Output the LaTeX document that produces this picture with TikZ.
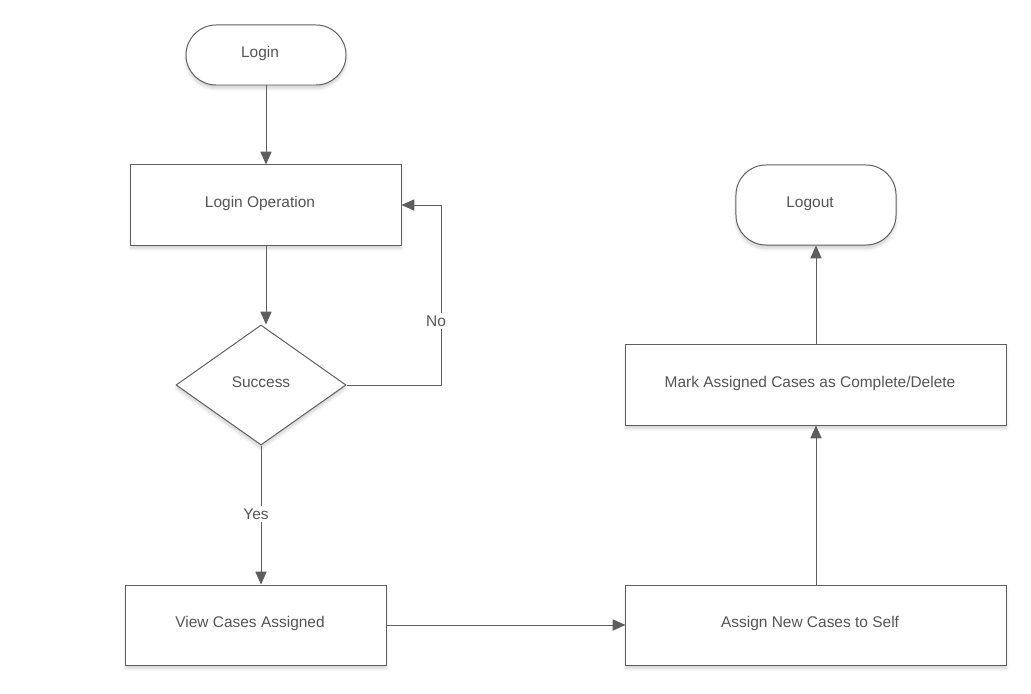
\documentclass[tikz,border=0pt]{standalone}
\usepackage{fontspec}
\setmainfont{Liberation Sans}
\usepackage{xcolor}
\usepackage{tikz}
\usetikzlibrary{positioning,shapes.geometric,arrows.meta,shadows.blur}

\definecolor{edgegray}{HTML}{5E5E5E}
\definecolor{textgray}{HTML}{555555}

\begin{document}
\begin{tikzpicture}[
  x=0.025cm, y=-0.025cm,
  every node/.style={font=\fontsize{11pt}{13pt}\selectfont, text=textgray},
  soft/.style={blur shadow={shadow xshift=0pt, shadow yshift=-2.5pt, shadow blur steps=6, shadow opacity=18}},
  txt/.style={text height=0.75em, text depth=0.45em, execute at begin node={\hspace*{-8.5pt}}},
  proc/.style={draw=edgegray, line width=0.7pt, fill=white, rectangle, soft, txt,
    minimum width=#1, minimum height=2cm, inner sep=0pt},
  term/.style={draw=edgegray, line width=0.7pt, fill=white, rectangle, rounded corners=0.75cm, soft, txt,
    minimum width=4cm, minimum height=#1, inner sep=0pt},
  decide/.style={draw=edgegray, line width=0.7pt, fill=white, diamond, soft,
    text height=0.75em, text depth=0.45em, minimum width=4.25cm, minimum height=3cm, inner sep=0pt},
  lbl/.style={fill=white, inner sep=2pt},
  arr/.style={-{Triangle[length=0.32cm, width=0.28cm]}, draw=edgegray, line width=0.7pt}
]
  \useasboundingbox (0,0) rectangle (1031,694);

  % left column
  \node[term=1.5cm] (login) at (266,55) {Login};
  \node[proc=6.75cm] (loginop) at (266,205) {Login Operation};
  \node[decide] (success) at (261,385) {Success};
  \node[proc=6.5cm] (viewcases) at (256,625) {View Cases Assigned};

  % right column
  \node[proc=9.5cm] (assign) at (816,625) {Assign New Cases to Self};
  \node[proc=9.5cm] (mark) at (816,385) {Mark Assigned Cases as Complete/Delete};
  \node[term=2cm] (logout) at (816,205) {Logout};

  \coordinate (nocorner) at (441,385);

  \draw[arr] (login) -- (loginop);
  \draw[arr] (loginop.south) -- (loginop.south |- success.north);
  \draw[arr] (success.east) -- (nocorner) |- (loginop.east);
  \draw[arr] (success.south) -- (success.south |- viewcases.north);
  \draw[arr] (viewcases.east) -- (assign.west);
  \draw[arr] (assign) -- (mark);
  \draw[arr] (mark) -- (logout);

  \node[lbl] (no) at (436,321) {No};
  \node[lbl] (yes) at (256,514) {Yes};
\end{tikzpicture}
\end{document}
